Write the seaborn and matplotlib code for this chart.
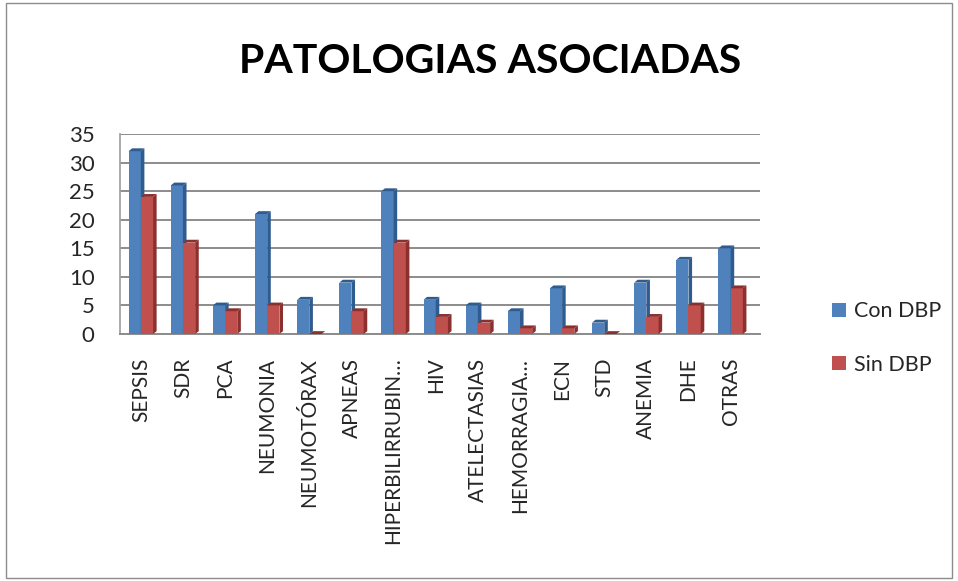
import matplotlib
matplotlib.use("Agg")
import matplotlib.pyplot as plt
import seaborn as sns
import pandas as pd
from matplotlib.patches import Polygon, Rectangle, Patch

categories = ["SEPSIS", "SDR", "PCA", "NEUMONIA", "NEUMOTÓRAX", "APNEAS",
              "HIPERBILIRRUBIN…", "HIV", "ATELECTASIAS", "HEMORRAGIA…",
              "ECN", "STD", "ANEMIA", "DHE", "OTRAS"]
con_dbp = [32, 26, 5, 21, 6, 9, 25, 6, 5, 4, 8, 2, 9, 13, 15]
sin_dbp = [24, 16, 4, 5, 0, 4, 16, 3, 2, 1, 1, 0, 3, 5, 8]
series_names = ["Con DBP", "Sin DBP"]
y_ticks = [0, 5, 10, 15, 20, 25, 30, 35]

df = pd.DataFrame({
    "cat": categories * 2,
    "val": con_dbp + sin_dbp,
    "serie": [series_names[0]] * len(categories) + [series_names[1]] * len(categories),
})

sns.set_theme(style="white")
plt.rcParams["font.family"] = ["Lato", "DejaVu Sans"]

fig = plt.figure(figsize=(9.58, 5.81), dpi=100)
fig.patches.append(Rectangle((0.006, 0.006), 0.988, 0.988, transform=fig.transFigure,
                             fill=False, edgecolor="#8c8c8c", linewidth=1.0))
ax = fig.add_axes([0.125, 0.4251, 0.668, 0.3442])

colors = {"Con DBP": "#4F81BD", "Sin DBP": "#C0504D"}
dark = {"Con DBP": "#2F5C8F", "Sin DBP": "#8C302E"}
sns.barplot(data=df, x="cat", y="val", hue="serie", palette=colors, ax=ax,
            width=0.58, gap=0, dodge=True, saturation=1, edgecolor="none",
            legend=False)

# 3D-like side/top shading derived from each bar
dx, dy = 0.085, 0.5
for i, cont in enumerate(ax.containers):
    name = series_names[i]
    z = 3 + i
    for bar in cont:
        bar.set_zorder(z)
        x0 = bar.get_x(); w = bar.get_width(); h = bar.get_height()
        side = Polygon([(x0 + w, 0), (x0 + w + dx, dy), (x0 + w + dx, h + dy), (x0 + w, h)],
                       closed=True, facecolor=dark[name], edgecolor="none", zorder=z)
        top = Polygon([(x0, h), (x0 + dx, h + dy), (x0 + w + dx, h + dy), (x0 + w, h)],
                      closed=True, facecolor=dark[name], edgecolor="none", zorder=z)
        ax.add_patch(side); ax.add_patch(top)

ax.set_ylim(0, 35)
ax.set_xlim(-0.5, 14.69)
ax.set_yticks(y_ticks)
ax.set_yticklabels([str(t) for t in y_ticks], fontsize=16)
ax.yaxis.grid(True, color="#8c8c8c", linewidth=1.4, zorder=0)
ax.set_axisbelow(True)
ax.set_xlabel(""); ax.set_ylabel("")
ax.tick_params(axis="x", labelrotation=90, labelsize=15, length=0, pad=17)
ax.tick_params(axis="y", length=0, pad=18)
for s in ["top", "right"]:
    ax.spines[s].set_visible(False)
ax.spines["left"].set_color("#a0a0a0")
ax.spines["bottom"].set_color("#8c8c8c")
ax.spines["bottom"].set_linewidth(1.4)

fig.text(0.512, 0.895, "PATOLOGIAS ASOCIADAS", ha="center", va="center",
         fontsize=29.5, fontweight="bold", color="black")

handles = [Patch(facecolor=colors[n], edgecolor="none") for n in series_names]
fig.legend(handles, series_names, loc="center left", bbox_to_anchor=(0.848, 0.418),
           frameon=False, fontsize=15.5, handlelength=0.65, handleheight=0.65,
           labelspacing=1.55, handletextpad=0.4)

fig.savefig("out.png", dpi=100)
